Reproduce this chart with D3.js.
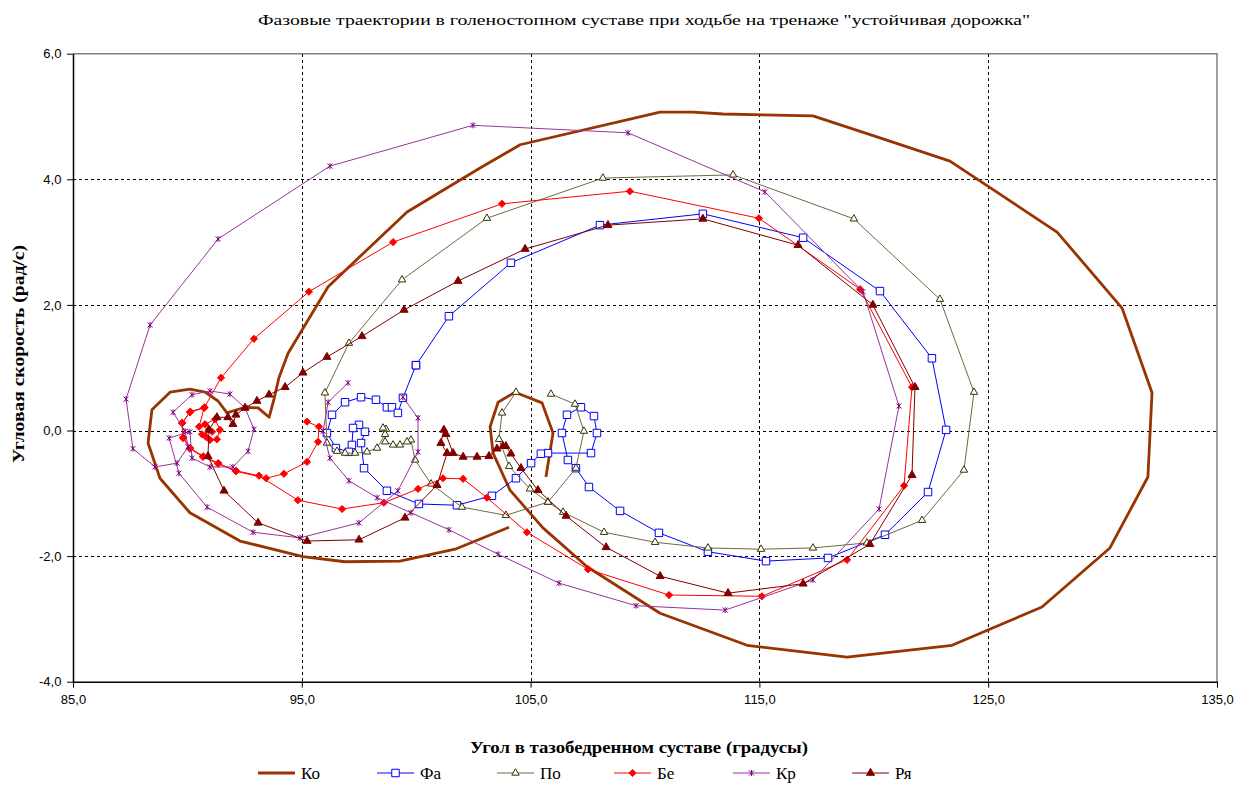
<!DOCTYPE html>
<html>
<head>
<meta charset="utf-8">
<script src="https://cdn.jsdelivr.net/npm/d3@7"></script>
<style>
  html, body { margin: 0; padding: 0; background: #fff; }
  svg { display: block; }
</style>
</head>
<body>
<svg id="chart" width="1240" height="785"></svg>
<script>
// Phase trajectories: hip angle (degrees) vs angular velocity (rad/s)
const chartTitle = 'Фазовые траектории в голеностопном суставе при ходьбе на тренаже "устойчивая дорожка"';
const xTitle = "Угол в тазобедренном суставе (градусы)";
const yTitle = "Угловая скорость (рад/с)";
const xTicks = [85, 95, 105, 115, 125, 135];
const yTicks = [-4, -2, 0, 2, 4, 6];
const seriesNames = ["Ко", "Фа", "По", "Бе", "Кр", "Ря"];

const dataKo = [[104.06,-1.54],[101.70,-1.89],[99.29,-2.08],[96.89,-2.09],[95.05,-2.01],[92.30,-1.76],[90.11,-1.31],[88.80,-0.76],[88.28,-0.20],[88.45,0.33],[89.24,0.61],[90.11,0.66],[90.77,0.61],[91.34,0.47],[91.73,0.28],[92.52,0.37],[93.09,0.36],[93.57,0.21],[93.78,0.49],[94.00,0.84],[94.40,1.23],[96.15,2.29],[99.60,3.48],[102.79,4.18],[104.54,4.55],[110.66,5.07],[112.10,5.07],[113.41,5.04],[117.34,5.01],[120.27,4.66],[123.33,4.29],[128.01,3.16],[130.85,1.95],[132.16,0.60],[131.98,-0.74],[130.32,-1.87],[127.35,-2.81],[123.42,-3.42],[118.83,-3.61],[114.46,-3.42],[110.66,-2.91],[107.47,-2.17],[105.54,-1.55],[104.10,-0.95],[103.36,-0.36],[103.23,0.06],[103.58,0.45],[104.32,0.61],[105.50,0.44],[105.98,-0.04],[105.67,-0.74]];

const dataFa = [[99.99,1.04],[101.43,1.82],[104.14,2.67],[108.03,3.27],[112.53,3.45],[116.91,3.07],[120.27,2.22],[122.54,1.15],[123.16,0.01],[122.37,-0.98],[120.49,-1.66],[118.00,-2.03],[115.29,-2.08],[112.75,-1.93],[110.61,-1.63],[108.91,-1.28],[107.55,-0.90],[106.98,-0.60],[106.63,-0.47],[106.37,-0.04],[106.59,0.25],[107.20,0.37],[107.77,0.23],[107.90,-0.04],[107.64,-0.36],[105.76,-0.36],[105.45,-0.37],[105.02,-0.52],[104.36,-0.76],[103.31,-1.04],[101.78,-1.19],[100.12,-1.17],[98.72,-0.96],[97.72,-0.60],[97.59,-0.20],[97.76,-0.02],[97.50,0.09],[97.24,0.04],[97.19,-0.23],[97.06,-0.34],[96.49,-0.28],[96.10,-0.04],[96.32,0.25],[96.89,0.45],[97.59,0.53],[98.24,0.49],[98.72,0.37],[98.94,0.37],[99.20,0.28],[99.42,0.52],[99.99,1.04]];

const dataPo = [[105.89,0.58],[106.94,0.42],[107.33,-0.01],[106.98,-0.60],[105.76,-1.14],[103.92,-1.35],[102.00,-1.22],[100.65,-0.85],[99.95,-0.47],[99.77,-0.15],[99.60,-0.18],[99.29,-0.23],[98.99,-0.23],[98.64,-0.18],[98.68,0.02],[98.55,0.04],[98.64,-0.06],[98.29,-0.28],[97.85,-0.34],[97.33,-0.36],[96.89,-0.36],[96.54,-0.33],[96.10,-0.20],[96.01,0.60],[97.06,1.39],[99.38,2.40],[103.09,3.38],[108.16,4.02],[113.85,4.07],[119.13,3.37],[122.89,2.09],[124.38,0.61],[123.94,-0.63],[122.11,-1.43],[119.70,-1.79],[117.34,-1.87],[115.07,-1.89],[112.75,-1.87],[110.44,-1.78],[108.21,-1.62],[106.42,-1.30],[105.76,-1.14],[104.97,-0.93],[104.06,-0.57],[103.62,-0.14],[103.75,0.28],[104.36,0.61]];

const dataBe = [[90.94,0.02],[91.08,-0.02],[90.64,-0.06],[90.81,-0.10],[90.99,-0.15],[91.29,-0.14],[91.42,0.01],[91.21,0.18],[90.77,0.10],[90.51,0.06],[90.73,0.36],[90.11,0.29],[89.76,0.12],[89.81,-0.12],[90.11,-0.29],[90.68,-0.42],[91.34,-0.53],[92.12,-0.64],[93.13,-0.72],[94.83,-1.11],[96.76,-1.25],[98.59,-1.15],[100.08,-0.93],[101.17,-0.76],[102.05,-0.77],[103.09,-1.07],[104.84,-1.62],[107.51,-2.21],[111.05,-2.62],[115.11,-2.64],[118.83,-2.06],[121.32,-0.88],[121.67,0.69],[119.40,2.25],[114.98,3.38],[109.34,3.81],[103.75,3.61],[98.99,3.00],[95.31,2.21],[92.91,1.46],[91.47,0.84],[90.75,0.37],[90.13,0.30],[89.78,0.12],[89.82,-0.11],[90.12,-0.28],[90.69,-0.41],[91.35,-0.52],[92.12,-0.65],[93.44,-0.76],[94.22,-0.69],[95.23,-0.50],[95.71,-0.18],[95.75,0.06],[95.23,0.14]];

const dataKr = [[97.02,0.76],[96.15,0.45],[95.93,-0.01],[96.23,-0.44],[97.06,-0.80],[98.29,-1.07],[99.77,-1.31],[101.43,-1.58],[103.58,-1.97],[106.24,-2.43],[109.61,-2.79],[113.50,-2.86],[117.34,-2.38],[120.23,-1.25],[121.10,0.39],[119.53,2.21],[115.24,3.80],[109.26,4.74],[102.48,4.86],[96.23,4.21],[91.34,3.05],[88.37,1.68],[87.32,0.50],[87.62,-0.29],[88.58,-0.58],[89.55,-0.52],[90.03,-0.26],[89.90,-0.01],[89.37,0.29],[90.20,0.57],[90.99,0.63],[91.86,0.58],[92.52,0.36],[92.91,0.02],[92.65,-0.33],[91.99,-0.58],[90.99,-0.58],[90.20,-0.44],[90.11,-0.02],[89.20,-0.12],[89.63,-0.68],[90.86,-1.22],[92.87,-1.62],[94.92,-1.71],[97.50,-1.47],[99.20,-0.96],[100.08,-0.34],[100.08,0.20],[99.42,0.53]];

const dataRya = [[101.21,0.01],[101.08,-0.20],[101.35,-0.36],[100.91,-0.87],[99.51,-1.39],[97.50,-1.74],[95.23,-1.76],[93.09,-1.47],[91.60,-0.96],[90.90,-0.41],[90.94,0.01],[91.29,0.21],[91.77,0.21],[91.99,0.10],[92.12,0.25],[92.52,0.36],[93.04,0.47],[93.57,0.57],[94.27,0.69],[95.05,0.92],[96.10,1.17],[97.63,1.50],[99.47,1.92],[101.83,2.38],[104.76,2.89],[108.38,3.27],[112.53,3.37],[116.69,2.95],[119.96,2.00],[121.80,0.69],[121.67,-0.71],[119.83,-1.81],[116.91,-2.44],[113.63,-2.59],[110.66,-2.32],[108.30,-1.86],[106.55,-1.36],[105.32,-0.95],[104.58,-0.60],[104.14,-0.37],[103.92,-0.25],[103.79,-0.25],[103.53,-0.29],[103.18,-0.41],[102.66,-0.42],[102.05,-0.42],[101.61,-0.36],[101.30,-0.06]];

const svg = d3.select("#chart");
const plot = { left: 73, right: 1217, top: 53.7, bottom: 681.7 };

const x = d3.scaleLinear().domain([85, 135]).range([plot.left, plot.right]);
const y = d3.scaleLinear().domain([-4, 6]).range([plot.bottom, plot.top]);
const fmt = d => d.toFixed(1).replace(".", ",");

// plot frame (top/right in grey)
svg.append("path")
  .attr("d", `M${plot.left},${plot.top}H${plot.right}V${plot.bottom}`)
  .attr("fill", "none").attr("stroke", "#808080").attr("stroke-width", 1.5);

// dashed grid
const grid = svg.append("g").attr("stroke", "#000").attr("stroke-width", 1)
  .attr("stroke-dasharray", "3,3").attr("shape-rendering", "crispEdges");
grid.selectAll("line.v").data(xTicks.filter(t => t > 85 && t < 135)).join("line")
  .attr("x1", d => Math.round(x(d)) + 0.5).attr("x2", d => Math.round(x(d)) + 0.5)
  .attr("y1", plot.top).attr("y2", plot.bottom);
grid.selectAll("line.h").data(yTicks.filter(t => t > -4 && t < 6)).join("line")
  .attr("y1", d => Math.round(y(d)) + 0.5).attr("y2", d => Math.round(y(d)) + 0.5)
  .attr("x1", plot.left).attr("x2", plot.right);

// axes
const xAxis = svg.append("g").attr("transform", `translate(0,${plot.bottom})`)
  .call(d3.axisBottom(x).tickValues(xTicks).tickFormat(fmt).tickSize(6).tickSizeOuter(0));
const yAxis = svg.append("g").attr("transform", `translate(${plot.left},0)`)
  .call(d3.axisLeft(y).tickValues(yTicks).tickFormat(fmt).tickSize(6).tickSizeOuter(0));
[xAxis, yAxis].forEach(a => {
  a.select(".domain").attr("stroke", "#000").attr("stroke-width", 1.5);
  a.selectAll(".tick line").attr("stroke", "#000");
  a.selectAll(".tick text").attr("fill", "#000")
    .style("font-family", "'Liberation Sans', Arial, sans-serif").style("font-size", "13px");
});
xAxis.selectAll(".tick text").attr("dy", "1.05em");
yAxis.selectAll(".tick text").attr("dx", "-0.2em");

// titles
const serif = "'Liberation Serif', 'Times New Roman', serif";
svg.append("text").attr("x", 644).attr("y", 25).attr("text-anchor", "middle")
  .attr("textLength", 772).attr("lengthAdjust", "spacingAndGlyphs")
  .style("font-family", serif).style("font-size", "15px").text(chartTitle);
svg.append("text").attr("x", 639).attr("y", 753).attr("text-anchor", "middle")
  .attr("textLength", 338).attr("lengthAdjust", "spacingAndGlyphs")
  .style("font-family", serif).style("font-size", "16px").style("font-weight", "bold").text(xTitle);
svg.append("text").attr("transform", "translate(24,354) rotate(-90)").attr("text-anchor", "middle")
  .attr("textLength", 218).attr("lengthAdjust", "spacingAndGlyphs")
  .style("font-family", serif).style("font-size", "16px").style("font-weight", "bold").text(yTitle);

// series styling
const asterisk = "M-2.5,-2.5L2.5,2.5M-2.5,2.5L2.5,-2.5M0,-3L0,3";
const diamond = "M0,-3.6L3.6,0L0,3.6L-3.6,0Z";
const styles = {
  "Ко": { data: dataKo, line: "#993300", width: 2.8, marker: null },
  "Фа": { data: dataFa, line: "#0000FF", width: 1, marker: { type: d3.symbolSquare, size: 56, fill: "#fff", stroke: "#0000FF" } },
  "По": { data: dataPo, line: "#6B6B40", width: 1, marker: { type: d3.symbolTriangle, size: 24, fill: "#fff", stroke: "#333300" } },
  "Бе": { data: dataBe, line: "#FF0000", width: 1, marker: { path: diamond, fill: "#FF0000", stroke: "#FF0000" } },
  "Кр": { data: dataKr, line: "#993399", width: 1, marker: { path: asterisk, fill: "none", stroke: "#800080" } },
  "Ря": { data: dataRya, line: "#800000", width: 1, marker: { type: d3.symbolTriangle, size: 28, fill: "#800000", stroke: "#800000" } }
};

const lineGen = d3.line().x(d => x(d[0])).y(d => y(d[1]));
const layer = svg.append("g");

function markerPath(m) {
  return m.path ? m.path : d3.symbol().type(m.type).size(m.size)();
}

seriesNames.forEach(name => {
  const s = styles[name];
  const g = layer.append("g");
  g.append("path").datum(s.data).attr("d", lineGen)
    .attr("fill", "none").attr("stroke", s.line).attr("stroke-width", s.width)
    .attr("stroke-linejoin", "round");
  if (s.marker) {
    g.selectAll("path.m").data(s.data).join("path").attr("class", "m")
      .attr("transform", d => `translate(${x(d[0])},${y(d[1])})`)
      .attr("d", markerPath(s.marker))
      .attr("fill", s.marker.fill).attr("stroke", s.marker.stroke).attr("stroke-width", 1);
  }
});

// legend
const legendX = [258, 377, 497, 614, 733, 852];
const legend = svg.append("g").attr("transform", "translate(0,773)");
seriesNames.forEach((name, i) => {
  const s = styles[name];
  const g = legend.append("g").attr("transform", `translate(${legendX[i]},0)`);
  g.append("line").attr("x1", 0).attr("x2", 37).attr("y1", 0).attr("y2", 0)
    .attr("stroke", s.line).attr("stroke-width", s.width);
  if (s.marker) {
    g.append("path").attr("transform", "translate(18.5,0)").attr("d", markerPath(s.marker))
      .attr("fill", s.marker.fill).attr("stroke", s.marker.stroke);
  }
  g.append("text").attr("x", 43).attr("y", 6).style("font-family", serif)
    .style("font-size", "17px").text(name);
});
</script>
</body>
</html>
